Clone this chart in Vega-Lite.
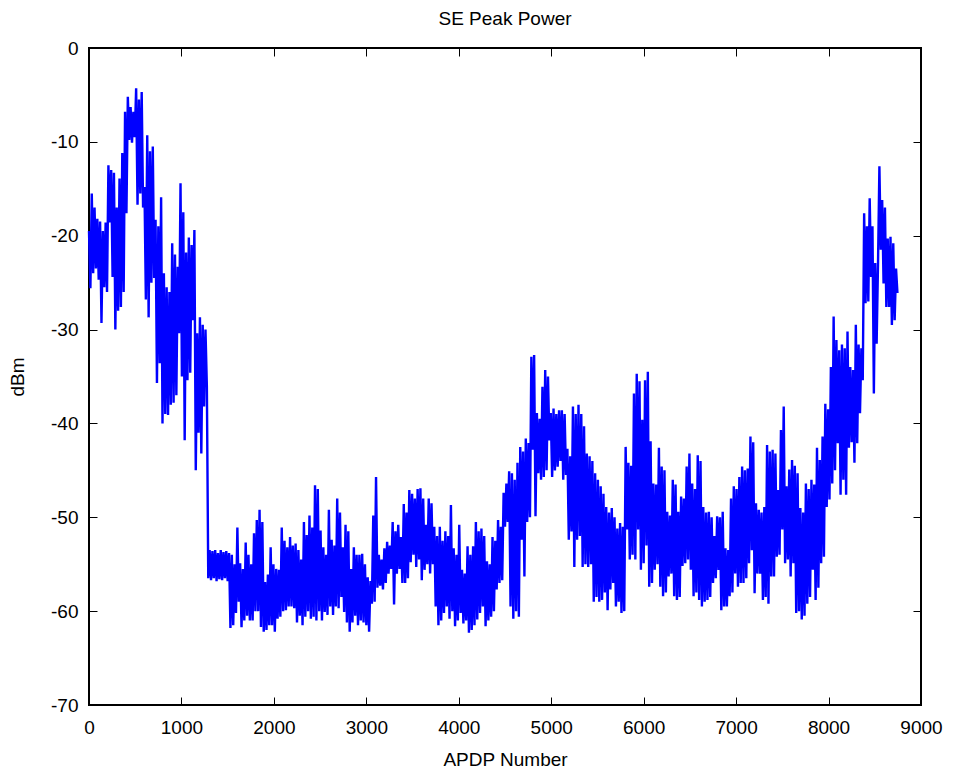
{
  "$schema": "https://vega.github.io/schema/vega-lite/v6.json",
  "width": 832,
  "height": 657,
  "autosize": {"type": "none"},
  "padding": {"left": 89, "top": 48, "right": 34, "bottom": 70},
  "background": "white",
  "title": {"text": "SE Peak Power", "font": "Liberation Sans", "fontSize": 19, "fontWeight": "normal", "color": "black", "offset": 10},
  "config": {
    "view": {"stroke": "black", "strokeWidth": 2},
    "axis": {"grid": false, "domain": false, "tickColor": "black", "tickWidth": 1, "tickSize": -8, "labelColor": "black", "titleColor": "black", "labelFont": "Liberation Sans", "titleFont": "Liberation Sans", "labelFontSize": 19, "titleFontSize": 19, "titleFontWeight": "normal", "labelFlush": false, "labelOverlap": false}
  },
  "data": {"values": [
{"apdp":0,"dbm":-19.5},{"apdp":15,"dbm":-25.6},{"apdp":30,"dbm":-15.5},{"apdp":45,"dbm":-24.0},{"apdp":60,"dbm":-17.0},{"apdp":75,"dbm":-23.5},{"apdp":90,"dbm":-18.2},{"apdp":105,"dbm":-24.7},{"apdp":120,"dbm":-18.5},{"apdp":135,"dbm":-29.3},{"apdp":150,"dbm":-19.5},{"apdp":165,"dbm":-25.5},{"apdp":180,"dbm":-18.6},{"apdp":195,"dbm":-26.0},{"apdp":210,"dbm":-12.5},{"apdp":225,"dbm":-18.6},{"apdp":240,"dbm":-13.0},{"apdp":255,"dbm":-24.4},{"apdp":270,"dbm":-13.3},{"apdp":285,"dbm":-30.0},{"apdp":300,"dbm":-17.0},{"apdp":315,"dbm":-28.0},{"apdp":330,"dbm":-13.9},{"apdp":345,"dbm":-27.6},{"apdp":360,"dbm":-11.2},{"apdp":375,"dbm":-26.0},{"apdp":390,"dbm":-6.8},{"apdp":405,"dbm":-17.6},{"apdp":420,"dbm":-5.2},{"apdp":435,"dbm":-9.8},{"apdp":450,"dbm":-6.3},{"apdp":465,"dbm":-10.1},{"apdp":480,"dbm":-6.8},{"apdp":495,"dbm":-9.5},{"apdp":510,"dbm":-4.3},{"apdp":525,"dbm":-16.7},{"apdp":540,"dbm":-5.5},{"apdp":555,"dbm":-15.5},{"apdp":570,"dbm":-4.7},{"apdp":585,"dbm":-17.0},{"apdp":600,"dbm":-14.8},{"apdp":615,"dbm":-26.8},{"apdp":630,"dbm":-9.3},{"apdp":645,"dbm":-28.7},{"apdp":660,"dbm":-11.0},{"apdp":675,"dbm":-25.0},{"apdp":690,"dbm":-10.5},{"apdp":705,"dbm":-24.5},{"apdp":720,"dbm":-18.3},{"apdp":735,"dbm":-35.7},{"apdp":750,"dbm":-19.0},{"apdp":765,"dbm":-33.6},{"apdp":780,"dbm":-15.9},{"apdp":795,"dbm":-40.0},{"apdp":810,"dbm":-24.0},{"apdp":825,"dbm":-39.0},{"apdp":840,"dbm":-25.5},{"apdp":855,"dbm":-39.1},{"apdp":870,"dbm":-26.0},{"apdp":885,"dbm":-38.0},{"apdp":900,"dbm":-20.8},{"apdp":915,"dbm":-37.8},{"apdp":930,"dbm":-22.0},{"apdp":945,"dbm":-37.0},{"apdp":960,"dbm":-23.3},{"apdp":975,"dbm":-30.4},{"apdp":990,"dbm":-14.4},{"apdp":1005,"dbm":-35.0},{"apdp":1020,"dbm":-17.5},{"apdp":1035,"dbm":-41.8},{"apdp":1050,"dbm":-21.8},{"apdp":1065,"dbm":-35.4},{"apdp":1080,"dbm":-20.2},{"apdp":1095,"dbm":-34.6},{"apdp":1110,"dbm":-21.0},{"apdp":1125,"dbm":-29.0},{"apdp":1140,"dbm":-19.4},{"apdp":1155,"dbm":-45.0},{"apdp":1170,"dbm":-30.4},{"apdp":1185,"dbm":-41.0},{"apdp":1200,"dbm":-28.7},{"apdp":1215,"dbm":-43.2},{"apdp":1230,"dbm":-29.5},{"apdp":1245,"dbm":-38.2},{"apdp":1260,"dbm":-30.0},{"apdp":1275,"dbm":-36.1},
{"apdp":1290,"dbm":-56.5},{"apdp":1305,"dbm":-53.5},{"apdp":1320,"dbm":-56.7},{"apdp":1335,"dbm":-53.6},{"apdp":1350,"dbm":-56.5},{"apdp":1365,"dbm":-53.5},{"apdp":1380,"dbm":-56.8},{"apdp":1395,"dbm":-53.8},{"apdp":1410,"dbm":-56.6},{"apdp":1425,"dbm":-53.5},{"apdp":1440,"dbm":-56.7},{"apdp":1455,"dbm":-53.7},{"apdp":1470,"dbm":-56.5},{"apdp":1485,"dbm":-53.6},{"apdp":1500,"dbm":-56.8},{"apdp":1515,"dbm":-53.8},{"apdp":1530,"dbm":-61.8},{"apdp":1545,"dbm":-54.0},{"apdp":1560,"dbm":-61.5},{"apdp":1575,"dbm":-55.0},{"apdp":1590,"dbm":-60.2},{"apdp":1605,"dbm":-51.1},{"apdp":1620,"dbm":-59.0},{"apdp":1635,"dbm":-54.9},{"apdp":1650,"dbm":-61.7},{"apdp":1665,"dbm":-55.5},{"apdp":1680,"dbm":-61.0},{"apdp":1695,"dbm":-52.7},{"apdp":1710,"dbm":-60.5},{"apdp":1725,"dbm":-54.0},{"apdp":1740,"dbm":-61.0},{"apdp":1755,"dbm":-55.0},{"apdp":1770,"dbm":-61.0},{"apdp":1785,"dbm":-51.7},{"apdp":1800,"dbm":-60.0},{"apdp":1815,"dbm":-50.3},{"apdp":1830,"dbm":-60.0},{"apdp":1845,"dbm":-49.2},{"apdp":1860,"dbm":-61.7},{"apdp":1875,"dbm":-50.5},{"apdp":1890,"dbm":-62.2},{"apdp":1905,"dbm":-56.9},{"apdp":1920,"dbm":-62.0},{"apdp":1935,"dbm":-56.1},{"apdp":1950,"dbm":-61.5},{"apdp":1965,"dbm":-53.2},{"apdp":1980,"dbm":-61.5},{"apdp":1995,"dbm":-55.0},{"apdp":2010,"dbm":-62.2},{"apdp":2025,"dbm":-55.5},{"apdp":2040,"dbm":-60.8},{"apdp":2055,"dbm":-55.6},{"apdp":2070,"dbm":-60.6},{"apdp":2085,"dbm":-51.1},{"apdp":2100,"dbm":-60.0},{"apdp":2115,"dbm":-52.5},{"apdp":2130,"dbm":-59.9},{"apdp":2145,"dbm":-53.2},{"apdp":2160,"dbm":-59.5},{"apdp":2175,"dbm":-52.1},{"apdp":2190,"dbm":-59.5},{"apdp":2205,"dbm":-53.0},{"apdp":2220,"dbm":-59.7},{"apdp":2235,"dbm":-52.8},{"apdp":2250,"dbm":-61.2},{"apdp":2265,"dbm":-53.5},{"apdp":2280,"dbm":-60.5},{"apdp":2295,"dbm":-54.5},{"apdp":2310,"dbm":-61.5},{"apdp":2325,"dbm":-50.5},{"apdp":2340,"dbm":-60.6},{"apdp":2355,"dbm":-51.9},{"apdp":2370,"dbm":-60.0},{"apdp":2385,"dbm":-49.8},{"apdp":2400,"dbm":-60.8},{"apdp":2415,"dbm":-51.1},{"apdp":2430,"dbm":-60.6},{"apdp":2445,"dbm":-46.6},{"apdp":2460,"dbm":-61.0},{"apdp":2475,"dbm":-47.0},{"apdp":2490,"dbm":-60.0},{"apdp":2505,"dbm":-51.4},{"apdp":2520,"dbm":-61.0},{"apdp":2535,"dbm":-53.2},{"apdp":2550,"dbm":-60.1},{"apdp":2565,"dbm":-54.0},{"apdp":2580,"dbm":-60.4},{"apdp":2595,"dbm":-49.2},{"apdp":2610,"dbm":-59.5},{"apdp":2625,"dbm":-52.4},{"apdp":2640,"dbm":-60.4},{"apdp":2655,"dbm":-53.0},{"apdp":2670,"dbm":-59.5},{"apdp":2685,"dbm":-48.0},{"apdp":2700,"dbm":-59.7},{"apdp":2715,"dbm":-49.5},{"apdp":2730,"dbm":-58.5},{"apdp":2745,"dbm":-53.2},{"apdp":2760,"dbm":-60.1},{"apdp":2775,"dbm":-50.8},{"apdp":2790,"dbm":-61.2},{"apdp":2805,"dbm":-51.5},{"apdp":2820,"dbm":-62.2},{"apdp":2835,"dbm":-55.5},{"apdp":2850,"dbm":-61.2},{"apdp":2865,"dbm":-53.2},{"apdp":2880,"dbm":-60.5},{"apdp":2895,"dbm":-54.0},{"apdp":2910,"dbm":-61.5},{"apdp":2925,"dbm":-54.0},{"apdp":2940,"dbm":-61.0},{"apdp":2955,"dbm":-53.9},{"apdp":2970,"dbm":-61.2},{"apdp":2985,"dbm":-55.0},{"apdp":3000,"dbm":-61.5},{"apdp":3015,"dbm":-56.4},{"apdp":3030,"dbm":-62.2},{"apdp":3045,"dbm":-56.8},{"apdp":3060,"dbm":-59.2},{"apdp":3075,"dbm":-49.8},{"apdp":3090,"dbm":-59.0},{"apdp":3105,"dbm":-45.7},{"apdp":3120,"dbm":-57.5},{"apdp":3135,"dbm":-54.0},{"apdp":3150,"dbm":-57.3},{"apdp":3165,"dbm":-54.5},{"apdp":3180,"dbm":-57.7},{"apdp":3195,"dbm":-53.3},{"apdp":3210,"dbm":-57.0},{"apdp":3225,"dbm":-52.6},{"apdp":3240,"dbm":-56.0},{"apdp":3255,"dbm":-53.0},{"apdp":3270,"dbm":-55.5},{"apdp":3285,"dbm":-50.5},{"apdp":3300,"dbm":-59.3},{"apdp":3315,"dbm":-51.5},{"apdp":3330,"dbm":-56.0},{"apdp":3345,"dbm":-50.8},{"apdp":3360,"dbm":-55.5},{"apdp":3375,"dbm":-52.1},{"apdp":3390,"dbm":-57.0},{"apdp":3405,"dbm":-48.6},{"apdp":3420,"dbm":-57.0},{"apdp":3435,"dbm":-49.5},{"apdp":3450,"dbm":-56.5},{"apdp":3465,"dbm":-47.1},{"apdp":3480,"dbm":-54.8},{"apdp":3495,"dbm":-47.5},{"apdp":3510,"dbm":-54.0},{"apdp":3525,"dbm":-48.0},{"apdp":3540,"dbm":-55.3},{"apdp":3555,"dbm":-47.0},{"apdp":3570,"dbm":-54.5},
{"apdp":3585,"dbm":-46.9},{"apdp":3600,"dbm":-56.7},{"apdp":3615,"dbm":-48.0},{"apdp":3630,"dbm":-55.6},{"apdp":3645,"dbm":-50.8},{"apdp":3660,"dbm":-55.0},{"apdp":3675,"dbm":-48.0},{"apdp":3690,"dbm":-56.0},{"apdp":3705,"dbm":-48.5},{"apdp":3720,"dbm":-55.0},{"apdp":3735,"dbm":-51.0},{"apdp":3750,"dbm":-59.5},{"apdp":3765,"dbm":-52.0},{"apdp":3780,"dbm":-61.5},{"apdp":3795,"dbm":-51.0},{"apdp":3810,"dbm":-61.0},{"apdp":3825,"dbm":-52.5},{"apdp":3840,"dbm":-60.2},{"apdp":3855,"dbm":-51.5},{"apdp":3870,"dbm":-59.5},{"apdp":3885,"dbm":-52.0},{"apdp":3900,"dbm":-60.8},{"apdp":3915,"dbm":-48.7},{"apdp":3930,"dbm":-60.0},{"apdp":3945,"dbm":-53.3},{"apdp":3960,"dbm":-61.6},{"apdp":3975,"dbm":-54.0},{"apdp":3990,"dbm":-61.0},{"apdp":4005,"dbm":-50.8},{"apdp":4020,"dbm":-60.2},{"apdp":4035,"dbm":-55.6},{"apdp":4050,"dbm":-61.3},{"apdp":4065,"dbm":-56.0},{"apdp":4080,"dbm":-61.0},{"apdp":4095,"dbm":-53.1},{"apdp":4110,"dbm":-62.3},{"apdp":4125,"dbm":-54.0},{"apdp":4140,"dbm":-62.0},{"apdp":4155,"dbm":-53.1},{"apdp":4170,"dbm":-61.5},{"apdp":4185,"dbm":-50.5},{"apdp":4200,"dbm":-60.9},{"apdp":4215,"dbm":-51.5},{"apdp":4230,"dbm":-60.2},{"apdp":4245,"dbm":-51.2},{"apdp":4260,"dbm":-59.5},{"apdp":4275,"dbm":-52.0},{"apdp":4290,"dbm":-61.6},{"apdp":4305,"dbm":-54.7},{"apdp":4320,"dbm":-61.0},{"apdp":4335,"dbm":-55.0},{"apdp":4350,"dbm":-60.6},{"apdp":4365,"dbm":-52.1},{"apdp":4380,"dbm":-60.0},{"apdp":4395,"dbm":-52.5},{"apdp":4410,"dbm":-57.7},{"apdp":4425,"dbm":-50.3},{"apdp":4440,"dbm":-57.0},{"apdp":4455,"dbm":-51.0},{"apdp":4470,"dbm":-56.7},{"apdp":4485,"dbm":-47.4},{"apdp":4500,"dbm":-51.0},{"apdp":4515,"dbm":-46.4},{"apdp":4530,"dbm":-50.5},{"apdp":4545,"dbm":-45.1},{"apdp":4560,"dbm":-59.5},{"apdp":4575,"dbm":-45.3},{"apdp":4590,"dbm":-60.8},{"apdp":4605,"dbm":-46.0},{"apdp":4620,"dbm":-60.0},{"apdp":4635,"dbm":-44.2},{"apdp":4650,"dbm":-60.6},{"apdp":4665,"dbm":-42.5},{"apdp":4680,"dbm":-52.4},{"apdp":4695,"dbm":-43.0},{"apdp":4710,"dbm":-56.3},{"apdp":4725,"dbm":-41.6},{"apdp":4740,"dbm":-50.5},{"apdp":4755,"dbm":-42.1},{"apdp":4770,"dbm":-50.0},{"apdp":4785,"dbm":-32.9},{"apdp":4800,"dbm":-42.8},{"apdp":4815,"dbm":-32.7},{"apdp":4830,"dbm":-49.9},{"apdp":4845,"dbm":-38.9},{"apdp":4860,"dbm":-45.3},{"apdp":4875,"dbm":-39.5},{"apdp":4890,"dbm":-46.0},{"apdp":4905,"dbm":-36.1},{"apdp":4920,"dbm":-45.7},{"apdp":4935,"dbm":-34.3},{"apdp":4950,"dbm":-45.0},{"apdp":4965,"dbm":-35.0},{"apdp":4980,"dbm":-41.8},{"apdp":4995,"dbm":-38.9},{"apdp":5010,"dbm":-45.7},{"apdp":5025,"dbm":-38.4},{"apdp":5040,"dbm":-45.0},{"apdp":5055,"dbm":-39.0},{"apdp":5070,"dbm":-44.6},{"apdp":5085,"dbm":-38.6},{"apdp":5100,"dbm":-44.0},{"apdp":5115,"dbm":-38.6},{"apdp":5130,"dbm":-46.0},{"apdp":5145,"dbm":-39.0},{"apdp":5160,"dbm":-45.5},{"apdp":5175,"dbm":-42.7},{"apdp":5190,"dbm":-52.4},{"apdp":5205,"dbm":-43.5},{"apdp":5220,"dbm":-51.5},{"apdp":5235,"dbm":-38.2},{"apdp":5250,"dbm":-55.3},{"apdp":5265,"dbm":-39.0},{"apdp":5280,"dbm":-52.4},{"apdp":5295,"dbm":-38.0},{"apdp":5310,"dbm":-52.0},{"apdp":5325,"dbm":-39.0},{"apdp":5340,"dbm":-55.3},{"apdp":5355,"dbm":-40.3},{"apdp":5370,"dbm":-55.0},{"apdp":5385,"dbm":-43.2},{"apdp":5400,"dbm":-55.3},{"apdp":5415,"dbm":-43.5},{"apdp":5430,"dbm":-55.0},{"apdp":5445,"dbm":-44.0},{"apdp":5460,"dbm":-59.0},{"apdp":5475,"dbm":-45.3},{"apdp":5490,"dbm":-58.5},{"apdp":5505,"dbm":-46.0},{"apdp":5520,"dbm":-59.0},
{"apdp":5535,"dbm":-46.7},{"apdp":5550,"dbm":-58.8},{"apdp":5565,"dbm":-47.5},{"apdp":5580,"dbm":-58.0},{"apdp":5595,"dbm":-48.9},{"apdp":5610,"dbm":-59.9},{"apdp":5625,"dbm":-49.5},{"apdp":5640,"dbm":-57.7},{"apdp":5655,"dbm":-49.0},{"apdp":5670,"dbm":-57.0},{"apdp":5685,"dbm":-50.0},{"apdp":5700,"dbm":-59.5},{"apdp":5715,"dbm":-51.2},{"apdp":5730,"dbm":-59.0},{"apdp":5745,"dbm":-50.6},{"apdp":5760,"dbm":-60.2},{"apdp":5775,"dbm":-51.0},{"apdp":5790,"dbm":-60.0},{"apdp":5805,"dbm":-42.5},{"apdp":5820,"dbm":-51.3},{"apdp":5835,"dbm":-44.2},{"apdp":5850,"dbm":-54.5},{"apdp":5865,"dbm":-44.5},{"apdp":5880,"dbm":-54.0},{"apdp":5895,"dbm":-36.8},{"apdp":5910,"dbm":-54.5},{"apdp":5925,"dbm":-34.7},{"apdp":5940,"dbm":-51.3},{"apdp":5955,"dbm":-35.5},{"apdp":5970,"dbm":-55.6},{"apdp":5985,"dbm":-39.6},{"apdp":6000,"dbm":-54.9},{"apdp":6015,"dbm":-35.4},{"apdp":6030,"dbm":-53.0},{"apdp":6045,"dbm":-34.5},{"apdp":6060,"dbm":-57.4},{"apdp":6075,"dbm":-41.9},{"apdp":6090,"dbm":-57.0},{"apdp":6105,"dbm":-46.4},{"apdp":6120,"dbm":-55.6},{"apdp":6135,"dbm":-46.5},{"apdp":6150,"dbm":-55.0},{"apdp":6165,"dbm":-42.6},{"apdp":6180,"dbm":-57.4},{"apdp":6195,"dbm":-44.6},{"apdp":6210,"dbm":-58.4},{"apdp":6225,"dbm":-45.0},{"apdp":6240,"dbm":-58.0},{"apdp":6255,"dbm":-49.4},{"apdp":6270,"dbm":-56.3},{"apdp":6285,"dbm":-49.8},{"apdp":6300,"dbm":-56.0},{"apdp":6315,"dbm":-46.0},{"apdp":6330,"dbm":-58.4},{"apdp":6345,"dbm":-46.5},{"apdp":6360,"dbm":-58.8},{"apdp":6375,"dbm":-49.4},{"apdp":6390,"dbm":-58.5},{"apdp":6405,"dbm":-47.8},{"apdp":6420,"dbm":-55.2},{"apdp":6435,"dbm":-48.0},{"apdp":6450,"dbm":-54.9},{"apdp":6465,"dbm":-44.6},{"apdp":6480,"dbm":-54.5},{"apdp":6495,"dbm":-43.2},{"apdp":6510,"dbm":-55.6},{"apdp":6525,"dbm":-46.4},{"apdp":6540,"dbm":-58.4},{"apdp":6555,"dbm":-47.0},{"apdp":6570,"dbm":-58.0},{"apdp":6585,"dbm":-43.4},{"apdp":6600,"dbm":-58.8},{"apdp":6615,"dbm":-44.0},{"apdp":6630,"dbm":-59.5},{"apdp":6645,"dbm":-48.9},{"apdp":6660,"dbm":-59.0},{"apdp":6675,"dbm":-49.5},{"apdp":6690,"dbm":-58.8},{"apdp":6705,"dbm":-49.4},{"apdp":6720,"dbm":-58.5},{"apdp":6735,"dbm":-50.0},{"apdp":6750,"dbm":-57.0},{"apdp":6765,"dbm":-52.0},{"apdp":6780,"dbm":-56.5},{"apdp":6795,"dbm":-49.9},{"apdp":6810,"dbm":-55.6},{"apdp":6825,"dbm":-50.0},{"apdp":6840,"dbm":-59.9},{"apdp":6855,"dbm":-49.4},{"apdp":6870,"dbm":-59.5},{"apdp":6885,"dbm":-53.3},{"apdp":6900,"dbm":-59.5},{"apdp":6915,"dbm":-53.5},{"apdp":6930,"dbm":-58.4},{"apdp":6945,"dbm":-48.0},{"apdp":6960,"dbm":-58.0},{"apdp":6975,"dbm":-46.7},{"apdp":6990,"dbm":-56.0},{"apdp":7005,"dbm":-47.0},{"apdp":7020,"dbm":-57.4},{"apdp":7035,"dbm":-45.7},{"apdp":7050,"dbm":-57.0},{"apdp":7065,"dbm":-44.6},{"apdp":7080,"dbm":-57.0},{"apdp":7095,"dbm":-45.0},{"apdp":7110,"dbm":-56.5},{"apdp":7125,"dbm":-44.8},{"apdp":7140,"dbm":-54.9},{"apdp":7155,"dbm":-41.4},{"apdp":7170,"dbm":-53.5},{"apdp":7185,"dbm":-42.0},{"apdp":7200,"dbm":-58.1},{"apdp":7215,"dbm":-48.5},{"apdp":7230,"dbm":-56.0},{"apdp":7245,"dbm":-49.2},{"apdp":7260,"dbm":-56.0},{"apdp":7275,"dbm":-49.5},{"apdp":7290,"dbm":-58.8},{"apdp":7305,"dbm":-48.9},{"apdp":7320,"dbm":-58.5},{"apdp":7335,"dbm":-42.3},{"apdp":7350,"dbm":-59.2},{"apdp":7365,"dbm":-43.0},{"apdp":7380,"dbm":-56.3},{"apdp":7395,"dbm":-42.8},{"apdp":7410,"dbm":-56.3},{"apdp":7425,"dbm":-43.2},{"apdp":7440,"dbm":-54.2},{"apdp":7455,"dbm":-47.1},{"apdp":7470,"dbm":-54.0},{"apdp":7485,"dbm":-40.7},{"apdp":7500,"dbm":-51.3},{"apdp":7515,"dbm":-38.2},{"apdp":7530,"dbm":-54.9},{"apdp":7545,"dbm":-46.7},{"apdp":7560,"dbm":-54.5},{"apdp":7575,"dbm":-44.9},{"apdp":7590,"dbm":-56.3},{"apdp":7605,"dbm":-43.9},{"apdp":7620,"dbm":-54.9},{"apdp":7635,"dbm":-44.5},{"apdp":7650,"dbm":-60.2},{"apdp":7665,"dbm":-45.3},{"apdp":7680,"dbm":-60.0},
{"apdp":7695,"dbm":-49.0},{"apdp":7710,"dbm":-60.9},{"apdp":7725,"dbm":-49.5},{"apdp":7740,"dbm":-60.5},{"apdp":7755,"dbm":-46.4},{"apdp":7770,"dbm":-59.2},{"apdp":7785,"dbm":-47.0},{"apdp":7800,"dbm":-58.5},{"apdp":7815,"dbm":-46.0},{"apdp":7830,"dbm":-55.6},{"apdp":7845,"dbm":-46.5},{"apdp":7860,"dbm":-58.8},{"apdp":7875,"dbm":-42.6},{"apdp":7890,"dbm":-57.5},{"apdp":7905,"dbm":-43.9},{"apdp":7920,"dbm":-54.9},{"apdp":7935,"dbm":-41.4},{"apdp":7950,"dbm":-54.2},{"apdp":7965,"dbm":-37.9},{"apdp":7980,"dbm":-48.9},{"apdp":7995,"dbm":-38.5},{"apdp":8010,"dbm":-48.1},{"apdp":8025,"dbm":-34.0},{"apdp":8040,"dbm":-46.4},{"apdp":8055,"dbm":-28.6},{"apdp":8070,"dbm":-45.0},{"apdp":8085,"dbm":-31.1},{"apdp":8100,"dbm":-42.1},{"apdp":8115,"dbm":-32.2},{"apdp":8130,"dbm":-47.6},{"apdp":8145,"dbm":-31.6},{"apdp":8160,"dbm":-46.0},{"apdp":8175,"dbm":-32.0},{"apdp":8190,"dbm":-47.6},{"apdp":8205,"dbm":-30.2},{"apdp":8220,"dbm":-42.6},{"apdp":8235,"dbm":-34.0},{"apdp":8250,"dbm":-42.0},{"apdp":8265,"dbm":-34.3},{"apdp":8280,"dbm":-44.2},{"apdp":8295,"dbm":-29.5},{"apdp":8310,"dbm":-42.1},{"apdp":8325,"dbm":-31.6},{"apdp":8340,"dbm":-38.9},{"apdp":8355,"dbm":-32.0},{"apdp":8370,"dbm":-35.4},{"apdp":8385,"dbm":-17.6},{"apdp":8400,"dbm":-27.2},{"apdp":8415,"dbm":-19.0},{"apdp":8430,"dbm":-27.0},{"apdp":8445,"dbm":-16.0},{"apdp":8460,"dbm":-24.4},{"apdp":8475,"dbm":-19.0},{"apdp":8490,"dbm":-36.8},{"apdp":8505,"dbm":-22.9},{"apdp":8520,"dbm":-31.5},{"apdp":8535,"dbm":-23.0},{"apdp":8550,"dbm":-12.6},{"apdp":8565,"dbm":-21.5},{"apdp":8580,"dbm":-16.2},{"apdp":8595,"dbm":-25.1},{"apdp":8610,"dbm":-17.0},{"apdp":8625,"dbm":-27.6},{"apdp":8640,"dbm":-20.3},{"apdp":8655,"dbm":-27.6},{"apdp":8670,"dbm":-20.1},{"apdp":8685,"dbm":-29.5},{"apdp":8700,"dbm":-20.8},{"apdp":8715,"dbm":-29.0},{"apdp":8730,"dbm":-23.5},{"apdp":8745,"dbm":-26.1}
  ]},
  "resolve": {"axis": {"x": "independent", "y": "independent"}},
  "layer": [
    {
      "mark": {"type": "line", "color": "#0000FF", "strokeWidth": 2.4, "strokeJoin": "miter", "strokeMiterLimit": 2},
      "encoding": {
        "x": {"field": "apdp", "type": "quantitative", "scale": {"domain": [0, 9000], "nice": false, "zero": false},
              "axis": {"orient": "bottom", "values": [0,1000,2000,3000,4000,5000,6000,7000,8000,9000], "labelExpr": "toString(datum.value)", "labelPadding": 21, "title": "APDP Number", "titlePadding": 13}},
        "y": {"field": "dbm", "type": "quantitative", "scale": {"domain": [-70, 0], "nice": false, "zero": false},
              "axis": {"orient": "left", "values": [-70,-60,-50,-40,-30,-20,-10,0], "labelExpr": "toString(datum.value)", "labelPadding": 19, "title": "dBm", "titlePadding": 23}}
      }
    },
    {
      "mark": {"type": "point", "opacity": 0},
      "encoding": {
        "x": {"field": "apdp", "type": "quantitative", "scale": {"domain": [0, 9000], "nice": false, "zero": false},
              "axis": {"orient": "top", "values": [0,1000,2000,3000,4000,5000,6000,7000,8000,9000], "labels": false, "title": null}},
        "y": {"field": "dbm", "type": "quantitative", "scale": {"domain": [-70, 0], "nice": false, "zero": false},
              "axis": {"orient": "right", "values": [-70,-60,-50,-40,-30,-20,-10,0], "labels": false, "title": null}}
      }
    }
  ]
}
